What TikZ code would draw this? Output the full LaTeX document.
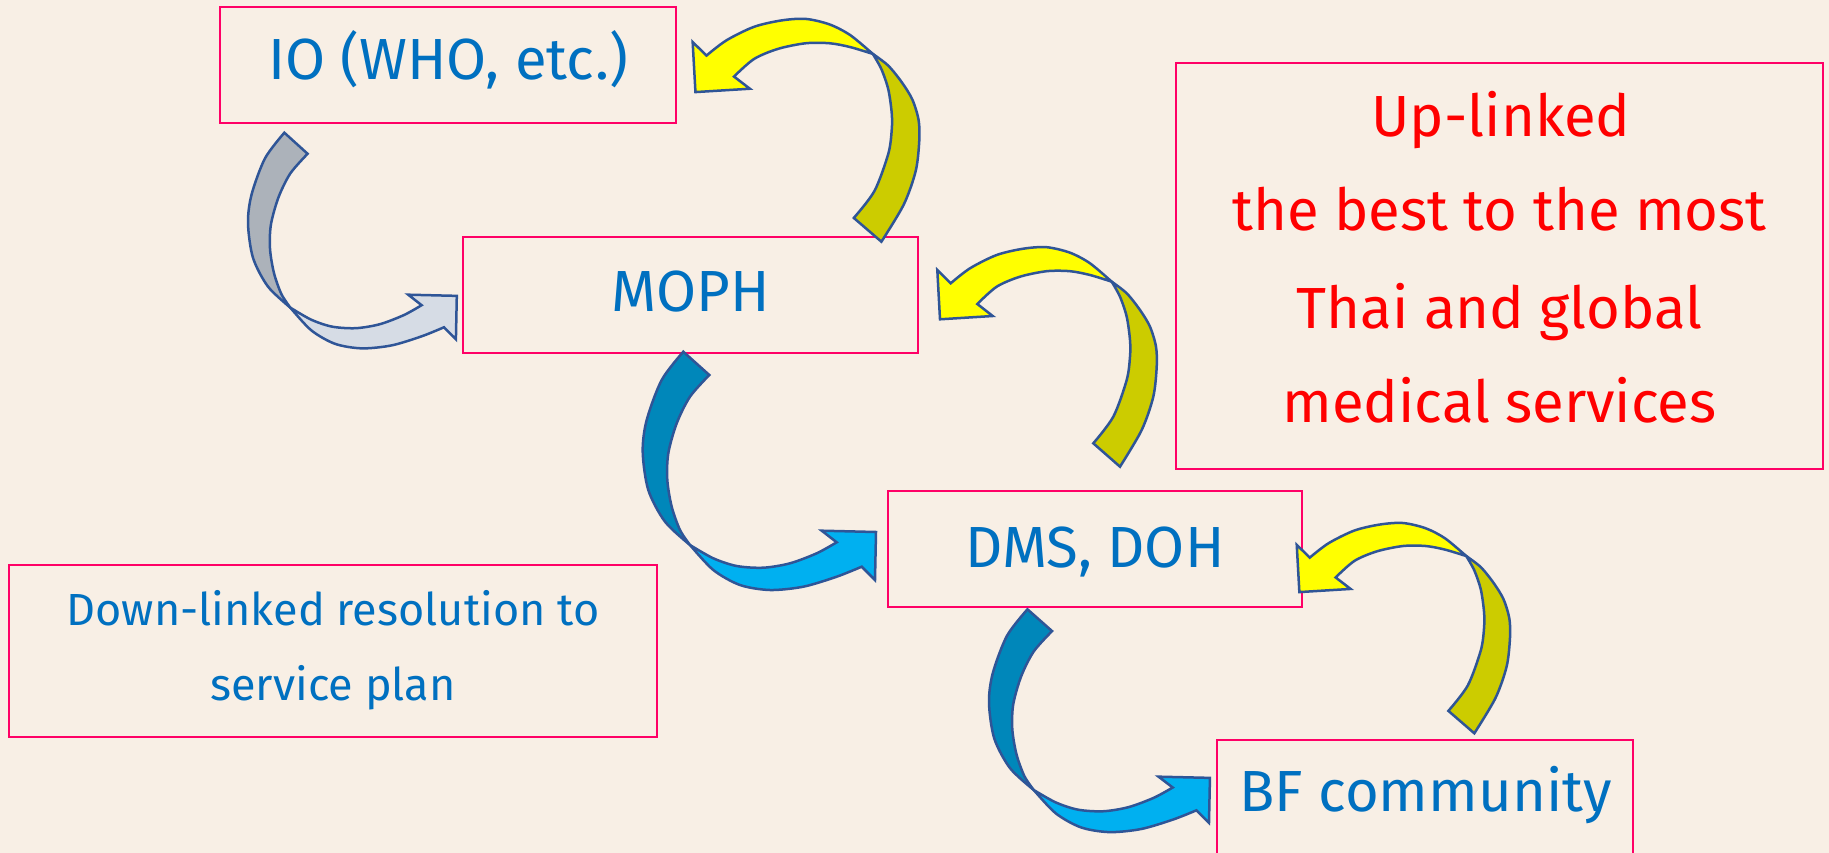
\documentclass[tikz,border=0pt]{standalone}
\usepackage{fontspec}
\setmainfont{Fira Sans}
\definecolor{bgc}{HTML}{F8EFE5}
\definecolor{boxpink}{HTML}{FF0066}
\definecolor{txtblue}{HTML}{0070C0}
\definecolor{txtred}{HTML}{FF0000}
\definecolor{edgeblue}{HTML}{2F5597}
\definecolor{grayback}{HTML}{ACB2BA}
\definecolor{grayfront}{HTML}{D6DCE5}
\definecolor{blueback}{HTML}{0087BA}
\definecolor{bluefront}{HTML}{00B0F0}
\definecolor{yelback}{HTML}{CCCC00}
\definecolor{yelfront}{HTML}{FFFF00}
\tikzset{
  box/.style={draw=boxpink, line width=2.2pt, inner sep=0pt, outer sep=0pt},
  lbl/.style={text=txtblue, inner sep=0pt, anchor=base, font=\fontsize{58}{64}\selectfont},
  redlbl/.style={text=txtred, inner sep=0pt, anchor=base, font=\fontsize{58}{64}\selectfont},
  smalllbl/.style={text=txtblue, inner sep=0pt, anchor=base, font=\fontsize{45}{50}\selectfont},
  arrowedge/.style={draw=edgeblue, line width=2.5pt, line join=miter},
}
% curved arrow going down (tail at top, head pointing right)
\newcommand{\DownCurvedArrow}[6]{%
  \begin{scope}[shift={(#1,#2)}, xscale=#3, yscale=#4]
    \filldraw[arrowedge, fill=#5] (40.6,0) -- plot[smooth] coordinates {(66.6,23.3) (47.3,45) (34,71.6) (25.6,101.6) (24.6,128.3) (29,155) (37.3,178.3) (47.3,193.3)}
      -- plot[smooth] coordinates {(47.3,193.3) (22.3,170) (5.6,138.3) (0,100) (4,68.3) (19,28.3) (40.6,0)} -- cycle;
    \filldraw[arrowedge, fill=#6] (47.3,193.3) -- plot[smooth] coordinates {(47.3,193.3) (70.6,218.3) (97.3,233.3) (127.3,238.3) (160.6,235) (194,225) (219,215)}
      -- (232.3,228.3) -- (233.3,180.3) -- (179,179) -- (194,190.6)
      -- plot[smooth] coordinates {(194,190.6) (174,201.6) (147.3,211.6) (120.6,216) (94,214.3) (70.6,206.6) (47.3,193.3)} -- cycle;
  \end{scope}}
% curved arrow going up (tail at bottom, head pointing left)
\newcommand{\UpCurvedArrow}[6]{%
  \begin{scope}[shift={(#1,#2)}, xscale=#3, yscale=#4]
    \filldraw[arrowedge, fill=#5] (-36.7,0) -- plot[smooth] coordinates {(-63.4,-23.4) (-43.4,-50) (-30,-86.7) (-26.7,-110) (-26.7,-126.7) (-30,-150) (-36.7,-170) (-45,-185)}
      -- plot[smooth] coordinates {(-45,-185) (-30,-173.4) (-16.7,-156.7) (-6.7,-140) (-0.7,-120) (0,-100) (-3.4,-70) (-15,-36.7) (-36.7,0)} -- cycle;
    \filldraw[arrowedge, fill=#6] (-45,-185) -- plot[smooth] coordinates {(-45,-185) (-66.7,-203.4) (-86.7,-214) (-110,-219.5) (-133.4,-218) (-160,-211.7) (-186.7,-198.4) (-206,-183.4)}
      -- (-219.4,-196.7) -- (-216.7,-147.4) -- (-164,-150.7) -- (-179.4,-162.7)
      -- plot[smooth] coordinates {(-179.4,-162.7) (-160,-180) (-136.7,-190) (-110,-195.5) (-86.7,-195.5) (-66.7,-191.7) (-45,-185)} -- cycle;
  \end{scope}}
\begin{document}
\begin{tikzpicture}[x=1pt,y=-1pt]
\useasboundingbox (0,0) rectangle (1829,853);
\fill[bgc] (0,0) rectangle (1829,853);
\clip (0,0) rectangle (1829,853);

% boxes
\node[box, minimum width=456pt, minimum height=116pt] (io) at (448,65) {};
\node[box, minimum width=455pt, minimum height=116pt] (moph) at (690.5,295) {};
\node[box, minimum width=414pt, minimum height=116pt] (dms) at (1095,549) {};
\node[box, minimum width=416pt, minimum height=116pt] (bf) at (1425,798) {};
\node[box, minimum width=647pt, minimum height=406pt] (up) at (1499.5,266) {};
\node[box, minimum width=648pt, minimum height=172pt] (down) at (333,651) {};

% labels
\node[lbl] (iot) at (448,80) {IO (WHO, etc.)};
\node[lbl] (mopht) at (690.5,311.5) {MOPH};
\node[lbl] (dmst) at (1095,567) {DMS, DOH};
\node[lbl] (bft) at (1425.5,811.7) {BF community};
\node[redlbl] (up1) at (1501,136.5) {Up-linked};
\node[redlbl] (up2) at (1499.5,231) {the best to the most};
\node[redlbl] (up3) at (1499.5,328) {Thai and global};
\node[redlbl] (up4) at (1499.5,422) {medical services};
\node[smalllbl] (down1) at (333,625) {Down-linked resolution to};
\node[smalllbl] (down2) at (333,700) {service plan};

% curved block arrows
\DownCurvedArrow{248}{132.7}{0.895}{0.905}{grayback}{grayfront}
\DownCurvedArrow{642.7}{351.7}{1}{1}{blueback}{bluefront}
\DownCurvedArrow{989}{609.3}{0.947}{0.935}{blueback}{bluefront}
\UpCurvedArrow{919.3}{241.7}{1.033}{1.015}{yelback}{yelfront}
\UpCurvedArrow{1156.7}{466.7}{1}{1}{yelback}{yelfront}
\UpCurvedArrow{1510}{733.3}{0.972}{0.958}{yelback}{yelfront}
\end{tikzpicture}
\end{document}
